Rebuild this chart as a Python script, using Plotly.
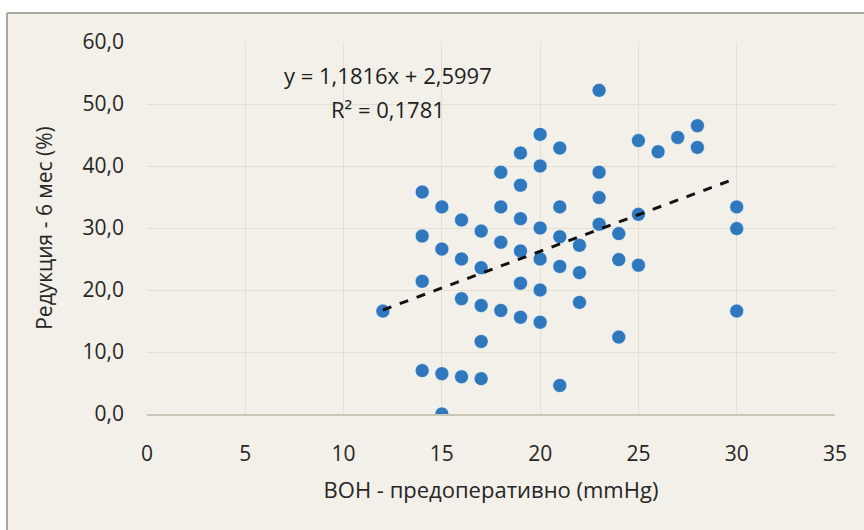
import plotly.graph_objects as go

# Intraocular pressure before surgery (mmHg) vs. reduction after 6 months (%)
iop_pre = [12, 14, 14, 14, 14, 15, 15, 15, 15, 16, 16, 16, 16,
           17, 17, 17, 17, 17, 18, 18, 18, 18, 19, 19, 19, 19, 19, 19,
           20, 20, 20, 20, 20, 20, 21, 21, 21, 21, 21, 22, 22, 22,
           23, 23, 23, 23, 24, 24, 24, 25, 25, 25, 26, 27, 28, 28,
           30, 30, 30]
reduction_6m = [16.6, 35.8, 28.7, 21.4, 7.0, 33.4, 26.6, 6.5, 0.0, 31.3, 25.0, 18.6, 6.0,
                29.5, 23.6, 17.5, 11.7, 5.7, 39.0, 33.4, 27.7, 16.7, 42.1, 36.9, 31.5, 26.3, 21.1, 15.6,
                45.1, 40.0, 30.0, 25.0, 20.0, 14.8, 42.9, 33.4, 28.6, 23.8, 4.6, 27.2, 22.8, 18.0,
                52.2, 39.0, 34.9, 30.6, 29.1, 24.9, 12.4, 44.1, 32.2, 24.0, 42.3, 44.6, 46.5, 43.0,
                33.4, 29.9, 16.6]

# Linear trend line parameters (as printed on the chart)
slope = 1.1816
intercept = 2.5997
r_squared = 0.1781

x_tickvals = [0, 5, 10, 15, 20, 25, 30, 35]
x_ticktext = ["0", "5", "10", "15", "20", "25", "30", "35"]
y_tickvals = [0, 10, 20, 30, 40, 50, 60]
y_ticktext = ["0,0", "10,0", "20,0", "30,0", "40,0", "50,0", "60,0"]

x_title = "ВОН - предоперативно (mmHg)"
y_title = "Редукция - 6 мес (%)"

FONT = "Open Sans"
TEXT = "#262626"
GRID = "#e2dfd3"
BG = "#f2f0e8"
FRAME = "#a9a89f"

x_min, x_max = min(iop_pre), max(iop_pre)
trend_x = [x_min, x_max]
trend_y = [slope * v + intercept for v in trend_x]

fig = go.Figure()

fig.add_trace(go.Scatter(
    x=iop_pre, y=reduction_6m, mode="markers",
    marker=dict(size=14, color="#2f78bd",
                line=dict(width=1, color="rgba(255,255,255,0.55)")),
    showlegend=False, hoverinfo="x+y",
))

fig.add_trace(go.Scatter(
    x=trend_x, y=trend_y, mode="lines",
    line=dict(color="#111111", width=3, dash="dash"),
    showlegend=False, hoverinfo="skip",
))

eq_text = "y = {}x + {}".format(str(slope).replace(".", ","), str(intercept).replace(".", ","))
r2_text = "R² = {}".format(str(r_squared).replace(".", ","))

# plot area in pixels: left 147, right 835, top 42, bottom 414
L, R, T, B = 147, 835, 42, 414
W, H = R - L, B - T

def px_x(p):
    return (p - L) / W

def px_y(p):
    return (B - p) / H

fig.add_annotation(x=px_x(388), y=px_y(75), xref="paper", yref="paper",
                   text=eq_text, showarrow=False,
                   font=dict(family=FONT, size=22, color="#1e1e1e"),
                   xanchor="center", yanchor="middle")
fig.add_annotation(x=px_x(388), y=px_y(109), xref="paper", yref="paper",
                   text=r2_text, showarrow=False,
                   font=dict(family=FONT, size=22, color="#1e1e1e"),
                   xanchor="center", yanchor="middle")

# chart frame: cream panel, thin border along its top and left edges
fig.add_shape(type="rect", xref="paper", yref="paper", layer="below",
              x0=px_x(7), x1=px_x(1100), y0=px_y(800), y1=px_y(13),
              fillcolor=BG, line=dict(width=0))
fig.add_shape(type="line", xref="paper", yref="paper", layer="below",
              x0=px_x(7), x1=px_x(1100), y0=px_y(13), y1=px_y(13),
              line=dict(color=FRAME, width=2))
fig.add_shape(type="line", xref="paper", yref="paper", layer="below",
              x0=px_x(7), x1=px_x(7), y0=px_y(13), y1=px_y(800),
              line=dict(color=FRAME, width=2))

fig.update_layout(
    width=864, height=530,
    margin=dict(l=L, r=864 - R, t=T, b=530 - B, pad=0),
    paper_bgcolor="white", plot_bgcolor="rgba(0,0,0,0)",
    font=dict(family=FONT, size=21, color=TEXT),
    xaxis=dict(
        range=[0, 35], tickvals=x_tickvals, ticktext=x_ticktext,
        showgrid=True, gridcolor=GRID, gridwidth=1,
        zeroline=False, showline=True, linecolor="#c9c6b6", linewidth=2,
        ticks="", ticklabelstandoff=20,
        tickfont=dict(family=FONT, size=21, color=TEXT),
        title=dict(text=x_title, standoff=16,
                   font=dict(family=FONT, size=22, color=TEXT)),
    ),
    yaxis=dict(
        range=[0, 60], tickvals=y_tickvals, ticktext=y_ticktext,
        showgrid=True, gridcolor=GRID, gridwidth=1,
        zeroline=False, showline=False,
        ticks="", ticklabelstandoff=22,
        tickfont=dict(family=FONT, size=21, color=TEXT),
        title=dict(text=y_title, standoff=24,
                   font=dict(family=FONT, size=21, color=TEXT)),
    ),
)

fig.write_html("out.html")
